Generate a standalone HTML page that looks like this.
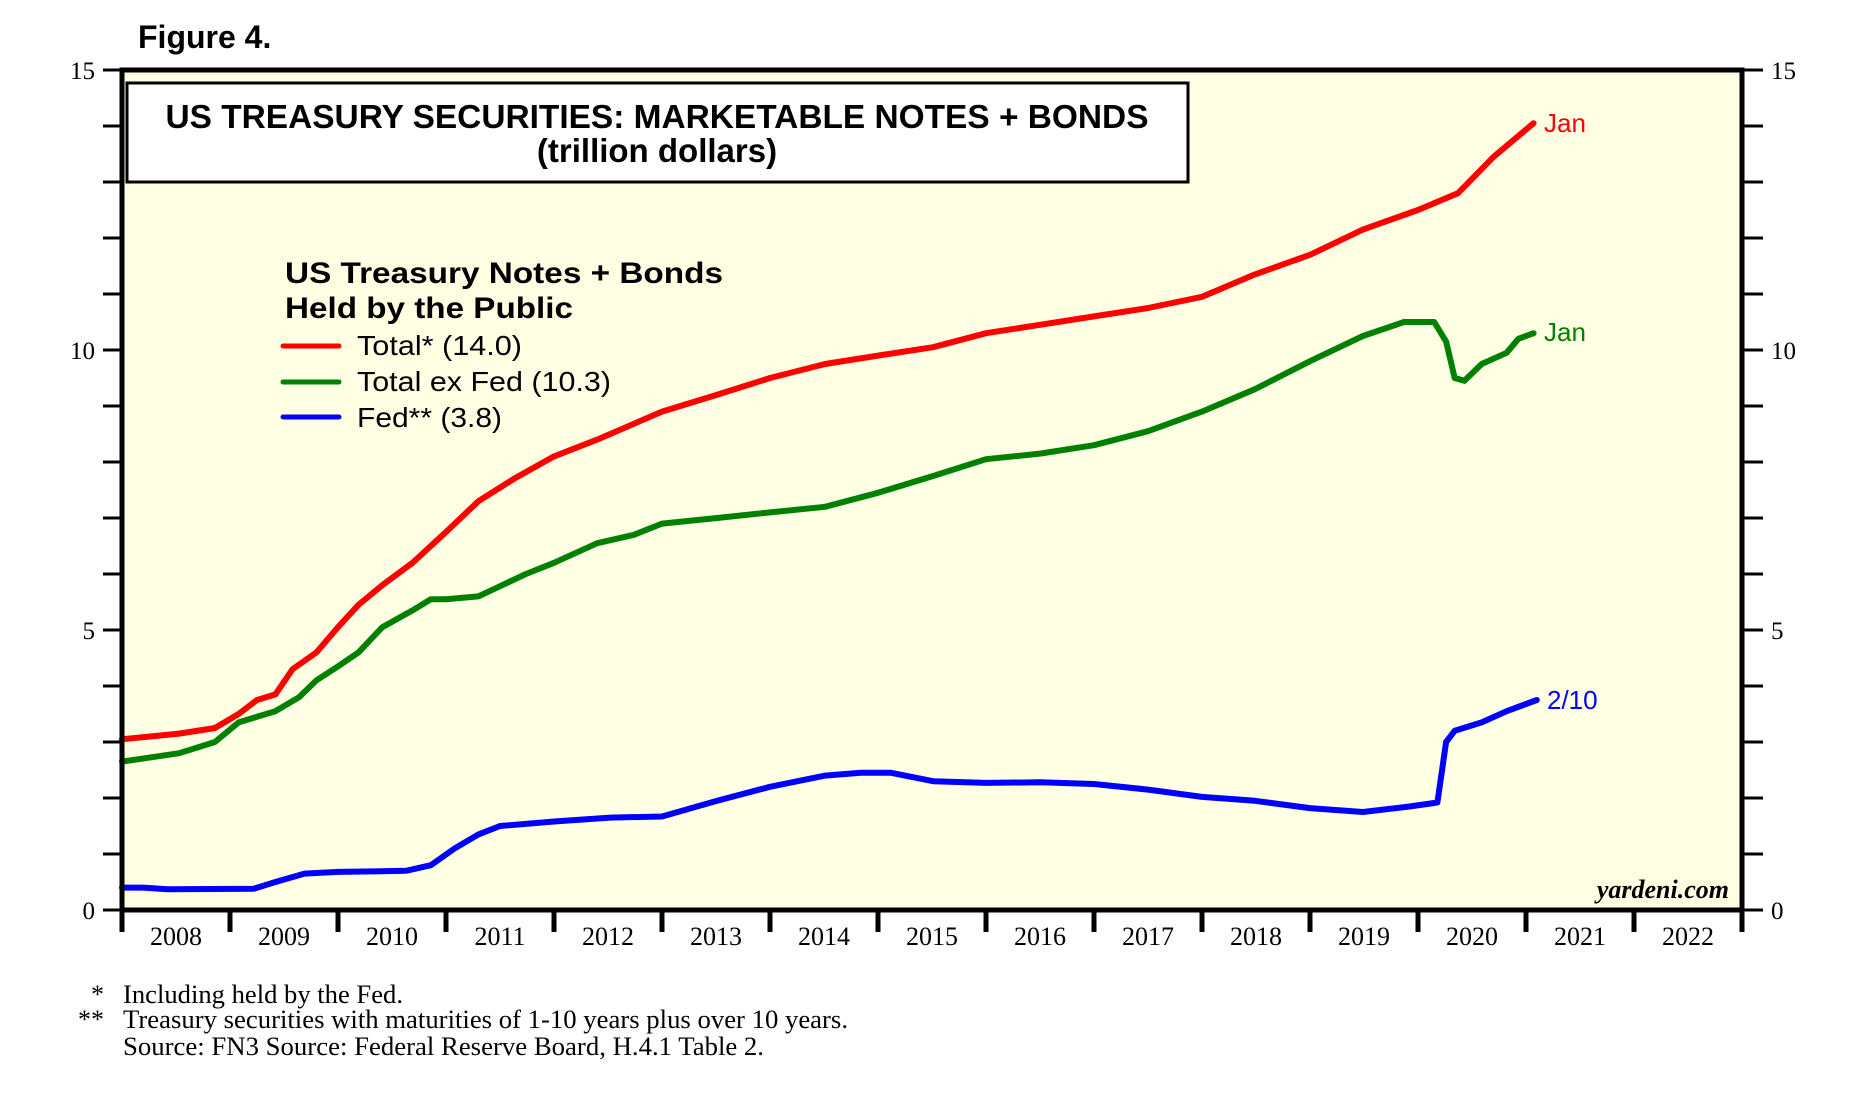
<!DOCTYPE html>
<html><head><meta charset="utf-8"><style>
html,body{margin:0;padding:0;background:#fff;}
svg{display:block;}
.t{font-family:"Liberation Times","Liberation Serif",serif;}
.s{font-family:"Liberation Sans",sans-serif;}
</style></head><body>
<svg id="chart" width="1874" height="1102" viewBox="0 0 1874 1102" xmlns="http://www.w3.org/2000/svg">
<text x="138" y="48" class="s" font-size="32" font-weight="bold">Figure 4.</text>
<rect x="122" y="70" width="1620" height="840" fill="#FFFFE4"/>
<g id="axes"></g>
<g id="series"></g>
<rect x="122" y="70" width="1620" height="840" fill="none" stroke="#000" stroke-width="5"/>
<g>
<rect x="127" y="83" width="1061" height="99" fill="#fff" stroke="#000" stroke-width="3"/>
<text x="657" y="128" text-anchor="middle" class="s" font-size="33" font-weight="bold" textLength="983" lengthAdjust="spacingAndGlyphs">US TREASURY SECURITIES: MARKETABLE NOTES + BONDS</text>
<text x="657" y="162" text-anchor="middle" class="s" font-size="33" font-weight="bold">(trillion dollars)</text>
</g>
<g>
<text x="285" y="283" class="s" font-size="30" font-weight="bold" textLength="438" lengthAdjust="spacingAndGlyphs">US Treasury Notes + Bonds</text>
<text x="285" y="318" class="s" font-size="30" font-weight="bold" textLength="288" lengthAdjust="spacingAndGlyphs">Held by the Public</text>
<g><line x1="283" y1="346" x2="339" y2="346" stroke="#f00" stroke-width="5" stroke-linecap="round"/><text x="357" y="355" class="s" font-size="28" textLength="165" lengthAdjust="spacingAndGlyphs">Total* (14.0)</text></g>
<g><line x1="283" y1="382" x2="339" y2="382" stroke="#008000" stroke-width="5" stroke-linecap="round"/><text x="357" y="391" class="s" font-size="28" textLength="254" lengthAdjust="spacingAndGlyphs">Total ex Fed (10.3)</text></g>
<g><line x1="283" y1="417" x2="339" y2="417" stroke="#00f" stroke-width="5" stroke-linecap="round"/><text x="357" y="427" class="s" font-size="28" textLength="145" lengthAdjust="spacingAndGlyphs">Fed** (3.8)</text></g>
</g>
<text x="1544" y="132" class="s" font-size="26" fill="#f00">Jan</text>
<text x="1544" y="341" class="s" font-size="26" fill="#008000">Jan</text>
<text x="1547" y="709" class="s" font-size="26" fill="#00f">2/10</text>
<text x="1729" y="898" text-anchor="end" class="t" font-size="26" font-weight="bold" font-style="italic">yardeni.com</text>
<g class="t" font-size="26">
<text x="104" y="1003" text-anchor="end">*</text><text x="123" y="1003" textLength="280" lengthAdjust="spacingAndGlyphs">Including held by the Fed.</text>
<text x="104" y="1028" text-anchor="end">**</text><text x="123" y="1028" textLength="725" lengthAdjust="spacingAndGlyphs">Treasury securities with maturities of 1-10 years plus over 10 years.</text>
<text x="123" y="1055" textLength="641" lengthAdjust="spacingAndGlyphs">Source: FN3 Source: Federal Reserve Board, H.4.1 Table 2.</text>
</g>
</svg>
<script>
const yTicks=[0,5,10,15];
const years=[2008,2009,2010,2011,2012,2013,2014,2015,2016,2017,2018,2019,2020,2021,2022];
const totalDates=[2008.0,2008.53,2008.86,2009.08,2009.25,2009.42,2009.58,2009.8,2010.0,2010.19,2010.41,2010.69,2011.0,2011.3,2011.63,2012.0,2012.4,2013.0,2013.51,2014.0,2014.51,2015.0,2015.51,2016.0,2016.5,2017.0,2017.5,2018.0,2018.49,2019.0,2019.49,2020.0,2020.37,2020.7,2021.07];
const totalVals=[3.05,3.15,3.25,3.5,3.75,3.85,4.3,4.6,5.05,5.45,5.8,6.2,6.75,7.3,7.7,8.1,8.4,8.9,9.2,9.5,9.75,9.9,10.05,10.3,10.45,10.6,10.75,10.95,11.35,11.7,12.15,12.5,12.8,13.45,14.05];
const exFedDates=[2008.0,2008.53,2008.86,2009.08,2009.25,2009.42,2009.64,2009.8,2010.0,2010.19,2010.41,2010.69,2010.86,2011.0,2011.3,2011.52,2011.74,2012.0,2012.4,2012.74,2013.0,2013.51,2014.0,2014.51,2015.0,2015.51,2016.0,2016.5,2017.0,2017.5,2018.0,2018.49,2019.0,2019.49,2019.87,2020.15,2020.26,2020.34,2020.43,2020.59,2020.82,2020.93,2021.07];
const exFedVals=[2.65,2.8,3.0,3.35,3.45,3.55,3.8,4.1,4.35,4.6,5.05,5.35,5.55,5.55,5.6,5.8,6.0,6.2,6.55,6.7,6.9,7.0,7.1,7.2,7.45,7.75,8.05,8.15,8.3,8.55,8.9,9.3,9.8,10.25,10.5,10.5,10.15,9.5,9.45,9.75,9.95,10.2,10.3];
const fedDates=[2008.0,2008.2,2008.42,2009.22,2009.42,2009.69,2010.0,2010.63,2010.86,2011.08,2011.3,2011.5,2012.0,2012.52,2013.0,2013.51,2014.0,2014.51,2014.84,2015.12,2015.51,2016.0,2016.5,2017.0,2017.5,2018.0,2018.49,2019.0,2019.49,2019.93,2020.18,2020.26,2020.34,2020.59,2020.82,2021.1];
const fedVals=[0.4,0.4,0.37,0.38,0.5,0.65,0.68,0.7,0.8,1.1,1.35,1.5,1.58,1.65,1.67,1.95,2.2,2.4,2.45,2.45,2.3,2.27,2.28,2.25,2.15,2.02,1.95,1.82,1.75,1.85,1.92,3.0,3.2,3.35,3.55,3.75];

const NS='http://www.w3.org/2000/svg';
const X=yr=>122+(yr-2008)*108;
const Y=v=>910-v*56;
const axes=document.getElementById('axes');
const series=document.getElementById('series');
function mk(tag,attrs,parent){const e=document.createElementNS(NS,tag);for(const k in attrs)e.setAttribute(k,attrs[k]);parent.appendChild(e);return e;}
for(let v=0;v<=15;v++){
  const y=Y(v);
  const l=mk('line',{x1:103,y1:y,x2:122,y2:y,stroke:'#000','stroke-width':3},axes);
  
  
  const r=mk('line',{x1:1742,y1:y,x2:1763,y2:y,stroke:'#000','stroke-width':3},axes);
  
  
}
yTicks.forEach(v=>{
  const a=mk('text',{x:95,y:Y(v)+9,'text-anchor':'end','class':'t','font-size':25},axes);a.textContent=v;
  
  
  const b=mk('text',{x:1771,y:Y(v)+9,'class':'t','font-size':25},axes);b.textContent=v;
  
  
});
for(let i=0;i<=years.length;i++){
  const x=X(2008+i);
  const t=mk('line',{x1:x,y1:910,x2:x,y2:932,stroke:'#000','stroke-width':5},axes);
  
  
}
years.forEach(yr=>{
  const t=mk('text',{x:X(yr+0.5),y:945,'text-anchor':'middle','class':'t','font-size':26},axes);t.textContent=yr;
  
  
});
function line(d,v,color,name){
  const pts=d.map((yr,i)=>X(yr).toFixed(1)+','+Y(v[i]).toFixed(1)).join(' ');
  const p=mk('polyline',{points:pts,fill:'none',stroke:color,'stroke-width':6,'stroke-linejoin':'round','stroke-linecap':'round'},series);
  
  
}
line(fedDates,fedVals,'#0000ff','fed-line');
line(exFedDates,exFedVals,'#008000','total-ex-fed-line');
line(totalDates,totalVals,'#ff0000','total-line');
</script>
</body></html>
